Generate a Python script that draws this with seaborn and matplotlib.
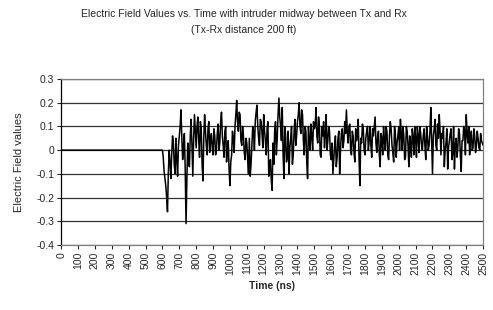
import numpy as np
import pandas as pd
import matplotlib
matplotlib.use('Agg')
import matplotlib.pyplot as plt
import seaborn as sns

# quiet period before the intruder signal
time_quiet = [0, 600]
field_quiet = [0.0, 0.0]

# signal from 600 ns to 2500 ns, every 10 ns
time_signal = list(range(600, 2501, 10))
field_signal = [
    0.0, -0.09, -0.15, -0.26, 0.0, -0.12, 0.06, -0.06, 0.05, -0.11,
    0.06, 0.17, -0.04, 0.07, -0.31, 0.03, -0.07, 0.13, -0.11, 0.15,
    0.01, 0.14, -0.03, 0.09, -0.13, 0.15, 0.02, 0.09, -0.01, 0.07,
    -0.02, 0.06, 0.0, 0.11, 0.03, 0.16, 0.02, 0.08, -0.05, 0.04,
    -0.15, -0.02, 0.05, 0.1, 0.21, 0.08, 0.15, 0.02, 0.06, -0.04,
    0.03, -0.1, -0.11, 0.02, 0.08, 0.12, 0.19, 0.05, 0.13, 0.07,
    0.15, 0.04, 0.09, -0.11, -0.04, -0.17, -0.06, 0.12, 0.05, 0.22,
    0.1, 0.18, -0.12, 0.06, -0.03, -0.1, 0.05, -0.06, 0.08, 0.02,
    0.12, 0.2, 0.07, 0.15, -0.02, 0.08, -0.12, 0.04, 0.11, 0.0,
    0.09, 0.18, 0.03, 0.1, -0.03, 0.06, 0.01, 0.15, 0.04, 0.08,
    -0.04, -0.1, 0.02, -0.07, 0.05, -0.1, 0.07, 0.01, 0.12, 0.17,
    0.03, 0.11, -0.02, 0.06, -0.05, 0.04, 0.13, -0.15, 0.03, 0.09,
    -0.02, 0.08, 0.0, 0.1, -0.03, 0.06, 0.14, -0.01, 0.08, -0.07,
    0.05, 0.1, 0.0, 0.08, -0.04, 0.12, 0.02, -0.05, 0.07, 0.03,
    0.1, 0.13, 0.0, 0.06, -0.03, 0.08, -0.07, 0.02, 0.09, -0.02,
    0.05, 0.1, -0.01, 0.07, 0.0, 0.09, -0.04, 0.06, 0.02, 0.18,
    -0.1, 0.09, 0.02, 0.11, 0.15, -0.02, 0.05, -0.07, 0.03, -0.08,
    0.04, 0.09, -0.01, -0.08, 0.05, 0.01, 0.07, -0.09, 0.04, 0.08,
    0.15, 0.03, -0.02, 0.08, 0.01, 0.06, 0.02, 0.05, 0.0, 0.04,
    0.02,
]

# in-between samples at 605, 615, ... 2495 ns
time_mid = list(range(605, 2500, 10))
field_mid = [
    -0.03, -0.12, -0.2, -0.1, -0.05, -0.02, 0.03, -0.1, -0.04, 0.02,
    0.1, 0.05, 0.02, -0.08, -0.12, -0.05, 0.06, 0.02, 0.05, 0.08,
    0.1, 0.04, 0.12, -0.06, 0.05, 0.08, -0.02, 0.12, 0.04, 0.01,
    0.09, -0.02, 0.07, 0.0, 0.12, 0.06, -0.03, 0.1, 0.0, -0.08,
    -0.05, 0.08, -0.01, 0.15, 0.12, 0.16, 0.04, 0.1, -0.01, 0.05,
    -0.04, 0.05, -0.06, 0.1, 0.0, 0.16, 0.1, 0.02, 0.12, 0.01,
    0.08, -0.02, 0.12, -0.08, -0.13, 0.03, 0.08, -0.02, 0.15, 0.14,
    0.04, -0.02, 0.1, -0.05, 0.08, 0.01, 0.1, -0.02, 0.13, 0.06,
    0.15, 0.1, 0.17, 0.04, 0.1, -0.05, 0.1, 0.0, 0.06, 0.12,
    0.1, 0.06, 0.14, -0.02, 0.1, 0.12, 0.06, 0.0, 0.1, -0.02,
    0.03, -0.04, 0.06, -0.03, 0.08, 0.0, 0.09, 0.04, 0.07, 0.08,
    0.1, 0.0, 0.08, -0.01, 0.09, 0.07, -0.04, 0.05, 0.11, 0.0,
    0.05, 0.1, 0.04, 0.02, 0.09, 0.1, 0.03, 0.06, -0.02, 0.07,
    -0.02, 0.04, 0.1, -0.02, 0.06, 0.09, -0.01, 0.1, -0.03, 0.06,
    0.0, 0.07, 0.1, -0.04, 0.1, 0.02, 0.06, -0.03, 0.06, 0.1,
    -0.03, 0.06, 0.1, 0.02, 0.06, 0.02, 0.1, 0.0, 0.08, 0.04,
    0.06, 0.13, 0.0, 0.05, 0.08, 0.07, 0.1, 0.0, 0.09, 0.01,
    0.07, -0.04, 0.1, 0.02, -0.03, 0.09, -0.02, 0.04, 0.1, -0.02,
    0.07, 0.1, 0.05, 0.0, 0.09, -0.01, 0.08, 0.01, 0.07, 0.03,
]

x_ticks = list(range(0, 2501, 100))
y_ticks = [-0.4, -0.3, -0.2, -0.1, 0, 0.1, 0.2, 0.3]
y_tick_labels = ['-0.4', '-0.3', '-0.2', '-0.1', '0', '0.1', '0.2', '0.3']

data = pd.DataFrame({
    'time': time_quiet[:-1] + time_signal + time_mid,
    'field': field_quiet[:-1] + field_signal + field_mid,
}).sort_values('time')

sns.set_style('white')
plt.rcParams['font.family'] = ['Liberation Sans', 'DejaVu Sans']

fig = plt.figure(figsize=(4.93, 3.10), dpi=100)
ax = fig.add_axes([0.124, 0.21, 0.856, 0.535])

# horizontal gridlines at every tick
for y in y_ticks:
    ax.axhline(y, color='#333333', lw=0.9, zorder=1)

sns.lineplot(data=data, x='time', y='field', color='black', lw=1.1,
             sort=True, ax=ax, zorder=3)

ax.set_xlim(0, 2500)
ax.set_ylim(-0.4, 0.3)
ax.set_xticks(x_ticks)
ax.set_xticklabels([str(t) for t in x_ticks], rotation=90, fontsize=7.5)
ax.set_yticks(y_ticks)
ax.set_yticklabels(y_tick_labels, fontsize=7.5)
ax.tick_params(axis='both', direction='out', length=3, width=0.8, pad=2,
               left=True, bottom=True)

for side in ['top', 'right', 'bottom']:
    ax.spines[side].set_color('#808080')
    ax.spines[side].set_linewidth(0.9)
ax.spines['left'].set_color('black')
ax.spines['left'].set_linewidth(0.9)

ax.set_xlabel('Time (ns)', fontsize=7.5, fontweight='bold', labelpad=4)
ax.set_ylabel('Electric Field values', fontsize=8, labelpad=9)

fig.text(0.495, 0.955, 'Electric Field Values vs. Time with intruder midway between Tx and Rx',
         ha='center', va='center', fontsize=7.5)
fig.text(0.495, 0.903, '(Tx-Rx distance 200 ft)', ha='center', va='center', fontsize=7.5)

fig.savefig('out.png', dpi=100)
